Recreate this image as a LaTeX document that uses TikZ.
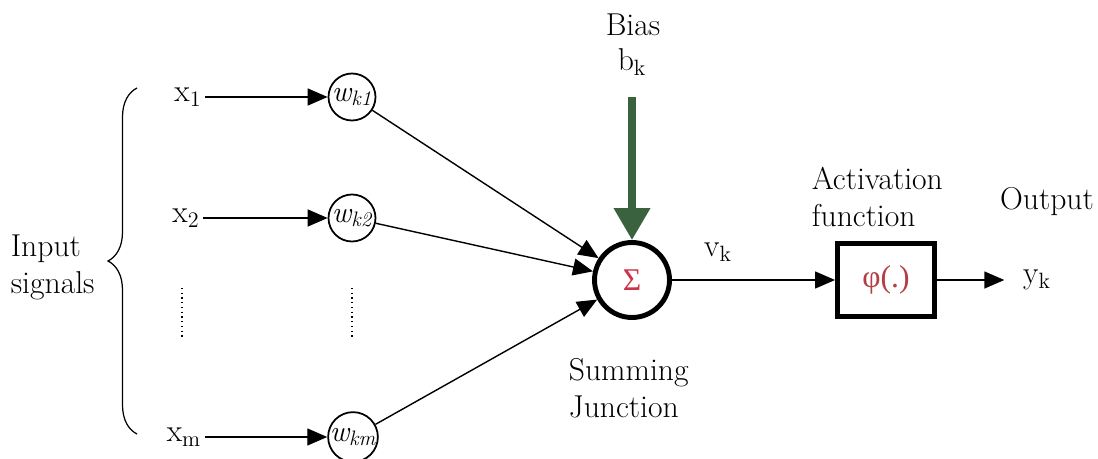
\documentclass[tikz,border=0pt]{standalone}
\usepackage{fontspec}
\newfontfamily\greekfont{Liberation Serif}
\usetikzlibrary{arrows.meta,positioning,decorations.pathreplacing}
\definecolor{cBias}{RGB}{58,98,62}
\definecolor{cSigma}{RGB}{205,50,75}
\definecolor{cPhi}{RGB}{180,62,70}
\tikzset{
	lbl/.style={font=\rmfamily\fontsize{18}{21}\selectfont, inner sep=2pt, align=left},
	wnode/.style={circle, draw=black, line width=1pt, minimum size=0.94cm,
		inner sep=0pt, font=\rmfamily\fontsize{17}{19}\selectfont\itshape},
	sumnode/.style={circle, draw=black, line width=2.8pt, minimum size=1.5cm,
		inner sep=0pt, text=cSigma, font=\greekfont\fontsize{18}{20}\selectfont},
	actbox/.style={draw=black, line width=2.8pt, minimum width=1.94cm,
		minimum height=1.46cm, inner sep=0pt, text=cPhi,
		font=\greekfont\fontsize{18}{20}\selectfont},
	marr/.style={-{Triangle[length=0.4cm,width=0.34cm]}, line width=0.8pt},
	barr/.style={-{Triangle[length=0.64cm,width=0.7cm]}, line width=4pt,
		draw=cBias},
	mdots/.style={dotted, line width=0.7pt},
}
\begin{document}
\begin{tikzpicture}[x=0.02cm,y=-0.02cm]
	\useasboundingbox (0,0) rectangle (1098,459);
	% input side
	\node[lbl, anchor=west] (inlbl) at (7,267) {Input\\signals};
	\draw[line width=0.7pt, decorate, decoration={brace, amplitude=0.58cm}]
		(137,434) -- (137,88);
	\node[lbl] (x1) at (188,97) {x\textsubscript{1}};
	\node[lbl] (x2) at (186,218) {x\textsubscript{2}};
	\node[lbl] (xm) at (184,437) {x\textsubscript{m}};
	\node[wnode] (wk1) at (352,97) {w\textsubscript{k1}};
	\node[wnode] (wk2) at (352,218) {w\textsubscript{k2}};
	\node[wnode] (wkm) at (353,437) {w\textsubscript{km}};
	\draw[marr] (x1) -- (wk1);
	\draw[marr] (x2) -- (wk2);
	\draw[marr] (xm) -- (wkm);
	\draw[mdots] (182,288) -- (182,337);
	\draw[mdots] (352,288) -- (352,337);
	% summing junction and bias
	\node[sumnode] (sum) at (632,280) {Σ};
	\node[lbl] (bias) at (633,25) {Bias};
	\node[lbl] (bk) at (632,62) {b\textsubscript{k}};
	\coordinate (btop) at (632,97);
	\draw[barr] (btop) -- (sum);
	\draw[marr] (wk1) -- (sum);
	\draw[marr] (wk2) -- (sum);
	\draw[marr] (wkm) -- (sum);
	\node[lbl, anchor=west] (sumlbl) at (565,388) {Summing\\Junction};
	% activation and output
	\node[lbl] (vk) at (718,252) {v\textsubscript{k}};
	\node[actbox] (act) at (886,280) {φ(.)};
	\node[lbl, anchor=west] (actlbl) at (808,197) {Activation\\function};
	\node[lbl] (out) at (1047,202) {Output};
	\node[lbl] (yk) at (1037,280) {y\textsubscript{k}};
	\draw[marr] (sum) -- (act);
	\draw[marr, shorten >=0.3cm] (act) -- (yk);
\end{tikzpicture}
\end{document}
